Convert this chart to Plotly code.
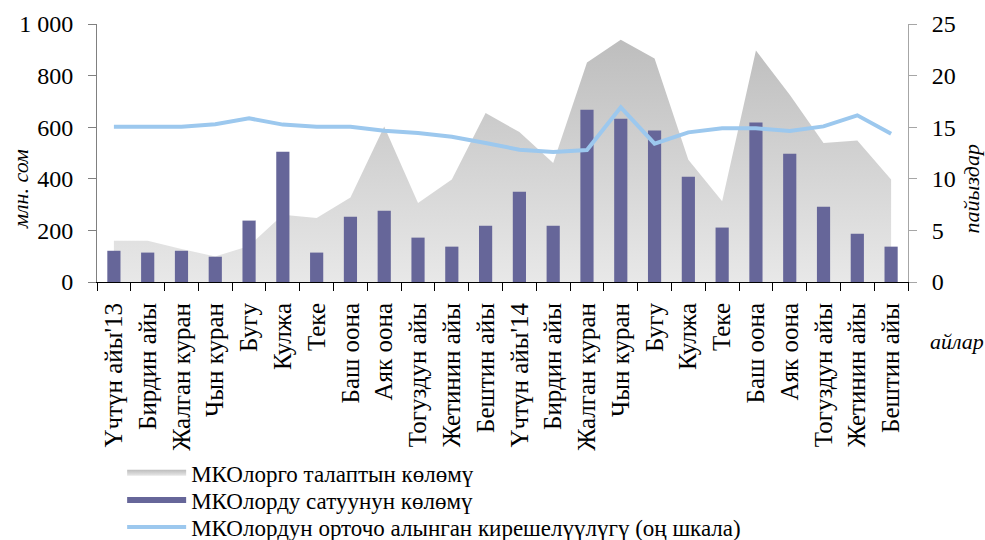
import plotly.graph_objects as go

months = ["Үчтүн айы'13", "Бирдин айы", "Жалган куран", "Чын куран", "Бугу", "Кулжа",
          "Теке", "Баш оона", "Аяк оона", "Тогуздун айы", "Жетинин айы", "Бештин айы",
          "Үчтүн айы'14", "Бирдин айы", "Жалган куран", "Чын куран", "Бугу", "Кулжа",
          "Теке", "Баш оона", "Аяк оона", "Тогуздун айы", "Жетинин айы", "Бештин айы"]

demand = [160, 160, 128, 99, 140, 261, 248, 328, 603, 306, 397, 655,
          581, 461, 851, 939, 866, 474, 313, 897, 726, 539, 548, 397]

sales = [121, 114, 121, 98, 238, 505, 114, 253, 276, 172, 137, 218,
         350, 218, 668, 633, 587, 408, 211, 618, 497, 292, 187, 137]

rate = [15.05, 15.05, 15.05, 15.28, 15.86, 15.25, 15.05, 15.05, 14.66, 14.44, 14.08, 13.47,
        12.82, 12.6, 12.79, 16.93, 13.4, 14.5, 14.89, 14.89, 14.63, 15.08, 16.15, 14.37]

left_ticks = [0, 200, 400, 600, 800, 1000]
left_ticktext = ["0", "200", "400", "600", "800", "1 000"]
right_ticks = [0, 5, 10, 15, 20, 25]

names = ["МКОлорго талаптын көлөмү", "МКОлорду сатуунун көлөмү",
         "МКОлордун орточо алынган кирешелүүлүгү (оң шкала)"]

FONT = "Liberation Serif, Times New Roman, serif"
BAR_COLOR = "#666699"
idx = list(range(len(months)))

fig = go.Figure()
fig.add_trace(go.Scatter(
    x=idx, y=demand, name=names[0], mode="none", fill="tozeroy",
    fillgradient=dict(type="vertical", start=0, stop=950,
                      colorscale=[[0, "#e8e8e8"], [1, "#bdbdbd"]]),
    yaxis="y", legend="legend"))
fig.add_trace(go.Bar(
    x=idx, y=sales, name=names[1], marker=dict(color=BAR_COLOR, line=dict(width=0)),
    width=0.39, yaxis="y2", showlegend=False))
# legend proxy so the bar series gets a wide filled swatch like the reference
fig.add_trace(go.Scatter(
    x=[None], y=[None], name=names[1], mode="none", fill="toself",
    fillcolor=BAR_COLOR, yaxis="y2", legend="legend2"))
fig.add_trace(go.Scatter(
    x=idx, y=rate, name=names[2], mode="lines",
    line=dict(color="#9cc8ee", width=4), yaxis="y3", legend="legend3"))

leg_common = dict(x=0.031, xanchor="left", yanchor="middle",
                  bgcolor="rgba(0,0,0,0)", font=dict(family=FONT, size=23, color="black"),
                  itemwidth=59, tracegroupgap=0)

fig.update_layout(
    width=985, height=540,
    margin=dict(l=97, r=77, t=24, b=258, autoexpand=False),
    paper_bgcolor="white", plot_bgcolor="white",
    font=dict(family=FONT, size=20, color="black"),
    showlegend=True,
    legend=dict(y=-0.740, **leg_common),
    legend2=dict(y=-0.845, **leg_common),
    legend3=dict(y=-0.950, **leg_common),
    xaxis=dict(range=[-0.5, len(months) - 0.5], tickmode="array", tickvals=idx,
               ticktext=months, tickangle=-90, ticks="", showgrid=False,
               showline=True, linecolor="black", linewidth=1,
               tickfont=dict(family=FONT, size=25, color="black"), ticklabelstandoff=10,
               minor=dict(tickmode="array", tickvals=[i - 0.5 for i in range(len(months) + 1)],
                          ticks="outside", ticklen=8, tickcolor="black", tickwidth=1,
                          showgrid=False),
               zeroline=False),
    yaxis=dict(range=[0, 1000], tickmode="array", tickvals=left_ticks, ticktext=left_ticktext,
               ticks="outside", ticklen=8, tickcolor="#808080", showline=True,
               linecolor="#808080", linewidth=1, showgrid=False, zeroline=False,
               tickfont=dict(family=FONT, size=24, color="black"), ticklabelstandoff=10),
    yaxis2=dict(range=[0, 1000], overlaying="y", visible=False, showgrid=False),
    yaxis3=dict(range=[0, 25], overlaying="y", side="right", tickmode="array",
                tickvals=right_ticks, ticks="outside", ticklen=8, tickcolor="#a6a6a6",
                showline=True, linecolor="#a6a6a6", linewidth=1, showgrid=False,
                zeroline=False, tickfont=dict(family=FONT, size=24, color="black"),
                ticklabelstandoff=10),
    bargap=0.6,
)

fig.add_annotation(text="млн. сом", xref="paper", yref="paper", x=-0.095, y=0.36,
                   xanchor="center", yanchor="middle", textangle=-90, showarrow=False,
                   font=dict(family=FONT, size=22, style="italic", color="black"))
fig.add_annotation(text="пайыздар", xref="paper", yref="paper", x=1.078, y=0.36,
                   xanchor="center", yanchor="middle", textangle=-90, showarrow=False,
                   font=dict(family=FONT, size=22, style="italic", color="black"))
fig.add_annotation(text="айлар", xref="paper", yref="paper", x=1.060, y=-0.229,
                   xanchor="center", yanchor="middle", showarrow=False,
                   font=dict(family=FONT, size=22, style="italic", color="black"))

fig.write_html("out.html", config={"displayModeBar": False},
               post_script="document.body.style.margin='0';document.body.style.overflow='hidden';")
